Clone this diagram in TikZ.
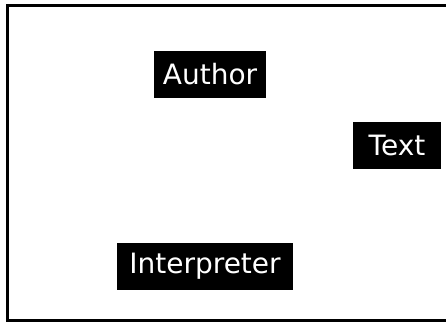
\documentclass[tikz,border=0pt]{standalone}
\usepackage{fontspec}
\setmainfont{DejaVu Sans}
\tikzset{
  rolebox/.style={rectangle, fill=black, text=white, inner xsep=8pt, inner ysep=0pt,
    minimum height=47pt, font=\fontsize{28}{32}\selectfont}
}

\begin{document}
\begin{tikzpicture}[x=1pt, y=-1pt]
    \useasboundingbox (0,0) rectangle (446,322);
    \draw[line width=2.2pt] (446,5.5) -- (7.5,5.5) -- (7.5,320.5) -- (446,320.5);

    \node[rolebox, minimum width=112pt] (author) at (210,74.5) {Author};
    \node[rolebox, minimum width=88pt] (text) at (397,145.5) {Text};
    \node[rolebox, minimum width=176pt] (interp) at (205,266.5) {Interpreter};
  \end{tikzpicture}
\end{document}
